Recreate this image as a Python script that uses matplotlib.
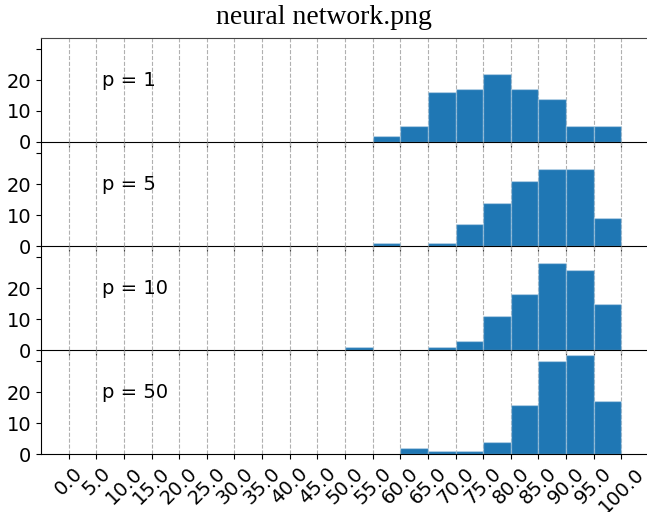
import numpy as np
import matplotlib
matplotlib.use("Agg")
import matplotlib.pyplot as plt

# histogram counts per 5-wide bin, 0..100
bin_edges = np.arange(0, 101, 5)
labels = ["p = 1", "p = 5", "p = 10", "p = 50"]
counts_p1 = [0, 0, 0, 0, 0, 0, 0, 0, 0, 0, 0, 2, 5, 16, 17, 22, 17, 14, 5, 5]
counts_p5 = [0, 0, 0, 0, 0, 0, 0, 0, 0, 0, 0, 1, 0, 1, 7, 14, 21, 25, 25, 9]
counts_p10 = [0, 0, 0, 0, 0, 0, 0, 0, 0, 0, 1, 0, 0, 1, 3, 11, 18, 28, 26, 15]
counts_p50 = [0, 0, 0, 0, 0, 0, 0, 0, 0, 0, 0, 0, 2, 1, 1, 4, 16, 30, 32, 17]
all_counts = [counts_p1, counts_p5, counts_p10, counts_p50]
xticks = np.linspace(0, 100, 21)

fig, axes = plt.subplots(4, 1, sharex=True, sharey=True, figsize=(6.47, 5.12), dpi=100)
fig.subplots_adjust(left=0.0634, right=1.003, top=0.926, bottom=0.113, hspace=0)

for i, (ax, lab, counts) in enumerate(zip(axes, labels, all_counts)):
    ax.patch.set_visible(False)
    ax.bar(bin_edges[:-1], counts, width=5, align='edge', color='#1f77b4',
           edgecolor=(1, 1, 1, 0.3), linewidth=1, zorder=2)
    ax.set_axisbelow(True)
    ax.grid(axis='x', linestyle='--', color='#b0b0b0', linewidth=0.8)
    ax.text(6, 20, lab, fontsize=14, va='center', ha='left')
    ax.spines['right'].set_visible(False)
    ax.spines['bottom'].set_color('black')
    ax.spines['bottom'].set_zorder(5)
    if i > 0:
        ax.spines['top'].set_visible(False)
    else:
        ax.spines['top'].set_color('#444444')
    ax.tick_params(axis='y', labelsize=14, length=3.5)
    ax.tick_params(axis='x', length=3.5)

axes[0].set_ylim(0, 33.6)
axes[0].set_yticks([0, 10, 20, 30])
axes[0].set_yticklabels(['0', '10', '20', ''])
axes[0].set_xlim(-5, 105)
axes[-1].set_xticks(xticks)
axes[-1].set_xticklabels(["%.1f" % v for v in xticks], rotation=45, fontsize=14)

fig.suptitle("neural network.png", fontsize=20, family='Liberation Serif', y=0.99)

fig.savefig("out.png", dpi=100)
